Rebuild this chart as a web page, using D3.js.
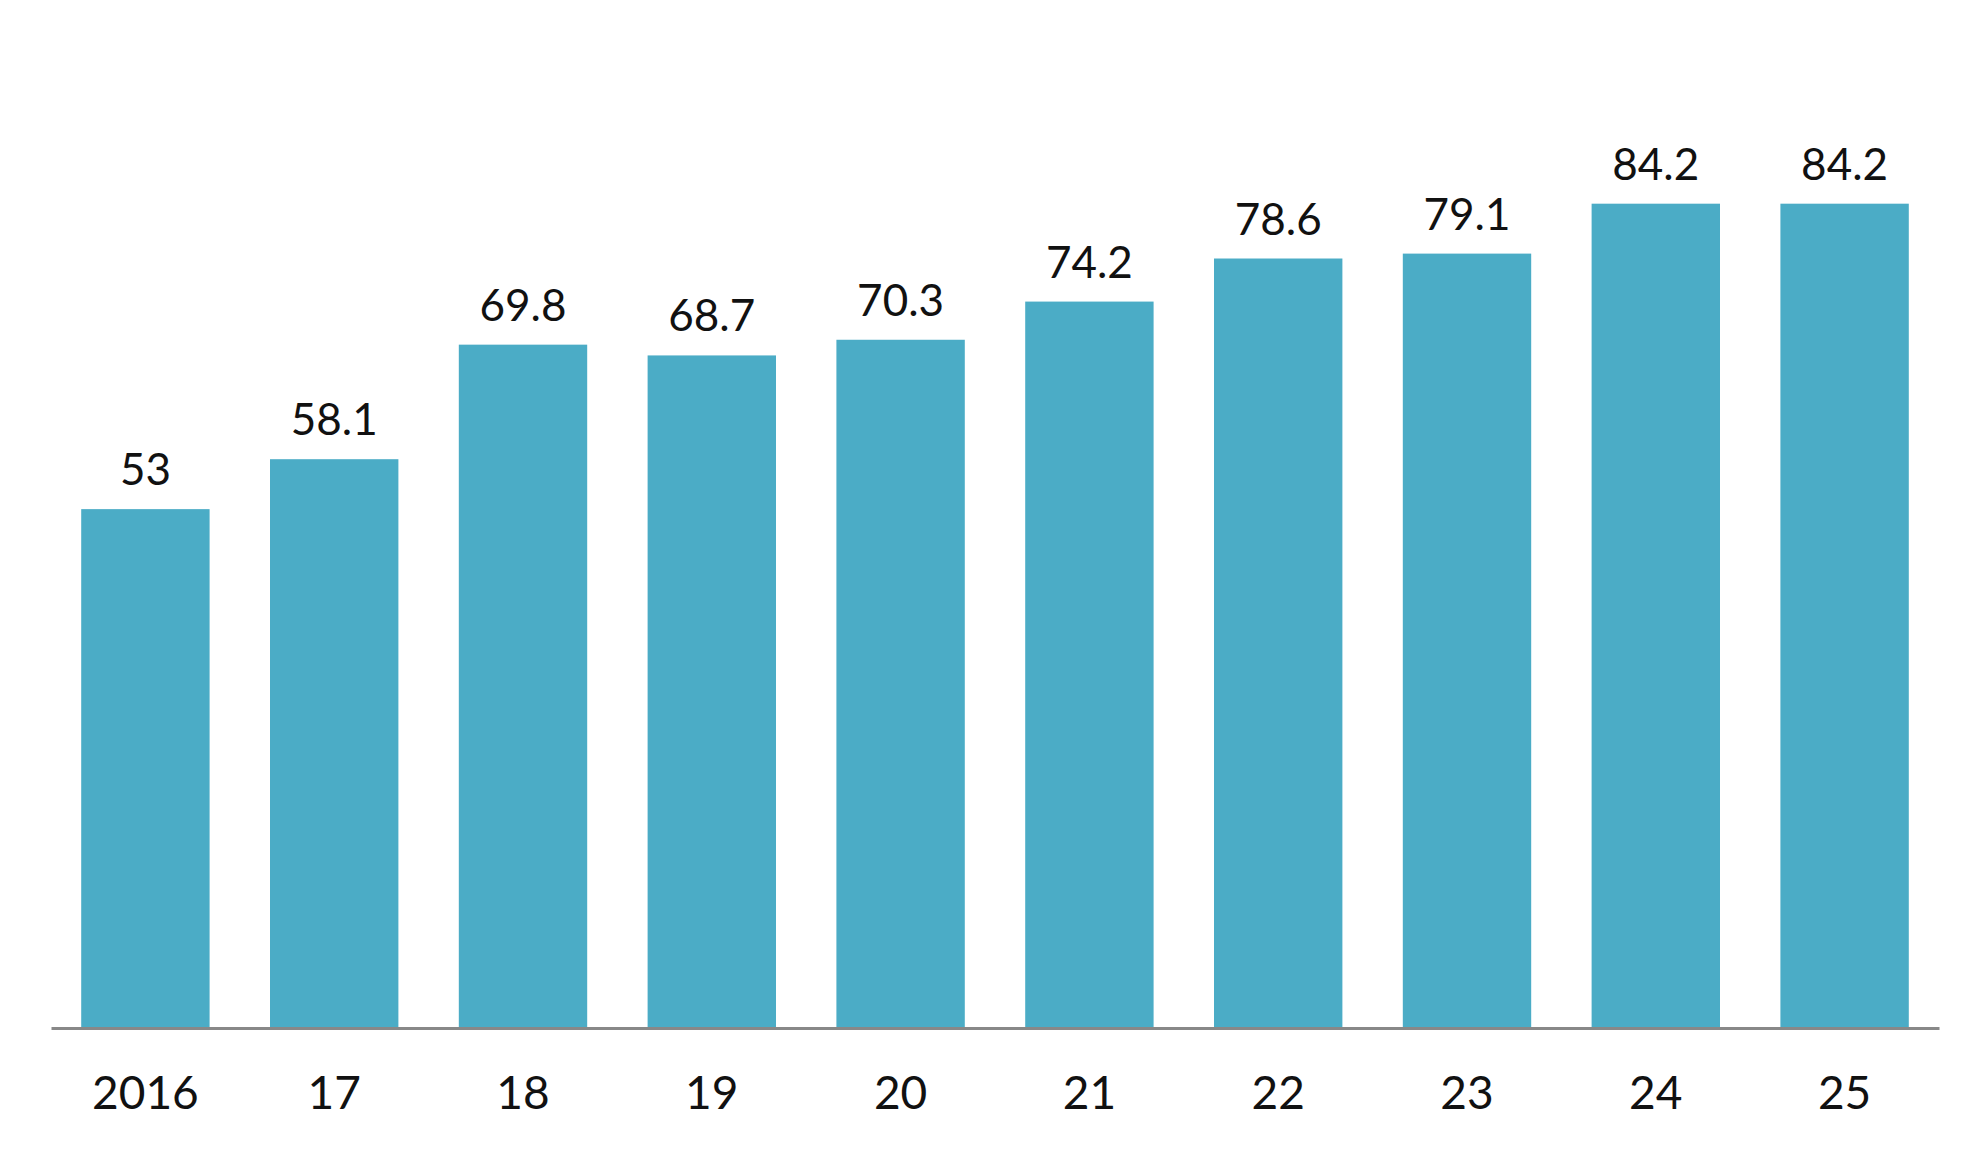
<!DOCTYPE html><html><head><meta charset="utf-8"><script src="https://cdn.jsdelivr.net/npm/d3@7"></script>
<style>body{margin:0;background:#fff}text{font-family:Lato,"Noto Sans",sans-serif;fill:#111}</style></head><body><svg width="1980" height="1155"></svg><script>
const categories=["2016","17","18","19","20","21","22","23","24","25"];
const values=[53,58.1,69.8,68.7,70.3,74.2,78.6,79.1,84.2,84.2];
const labels=["53","58.1","69.8","68.7","70.3","74.2","78.6","79.1","84.2","84.2"];
const svg=d3.select("svg");
const x=d3.scaleBand().domain(categories).range([51,1939]).paddingInner(0.32).paddingOuter(0.16);
const y=d3.scaleLinear().domain([0,100]).range([1028,49]);
svg.selectAll("rect").data(values).join("rect").attr("x",(d,i)=>x(categories[i])).attr("width",x.bandwidth())
 .attr("y",d=>y(d)).attr("height",d=>y(0)-y(d)).attr("fill","#4BACC6");
svg.selectAll("text.v").data(values).join("text").attr("class","v").attr("text-anchor","middle")
 .attr("x",(d,i)=>x(categories[i])+x.bandwidth()/2).attr("y",d=>y(d)-24).attr("font-size",44).text((d,i)=>labels[i]);
const ax=svg.append("g").attr("transform","translate(0,1028)").call(d3.axisBottom(x).tickSize(0).tickPadding(40));
ax.select(".domain").attr("stroke","#888").attr("stroke-width",3);
ax.selectAll("text").attr("font-size",46).attr("dy","0.9em");
</script></body></html>
